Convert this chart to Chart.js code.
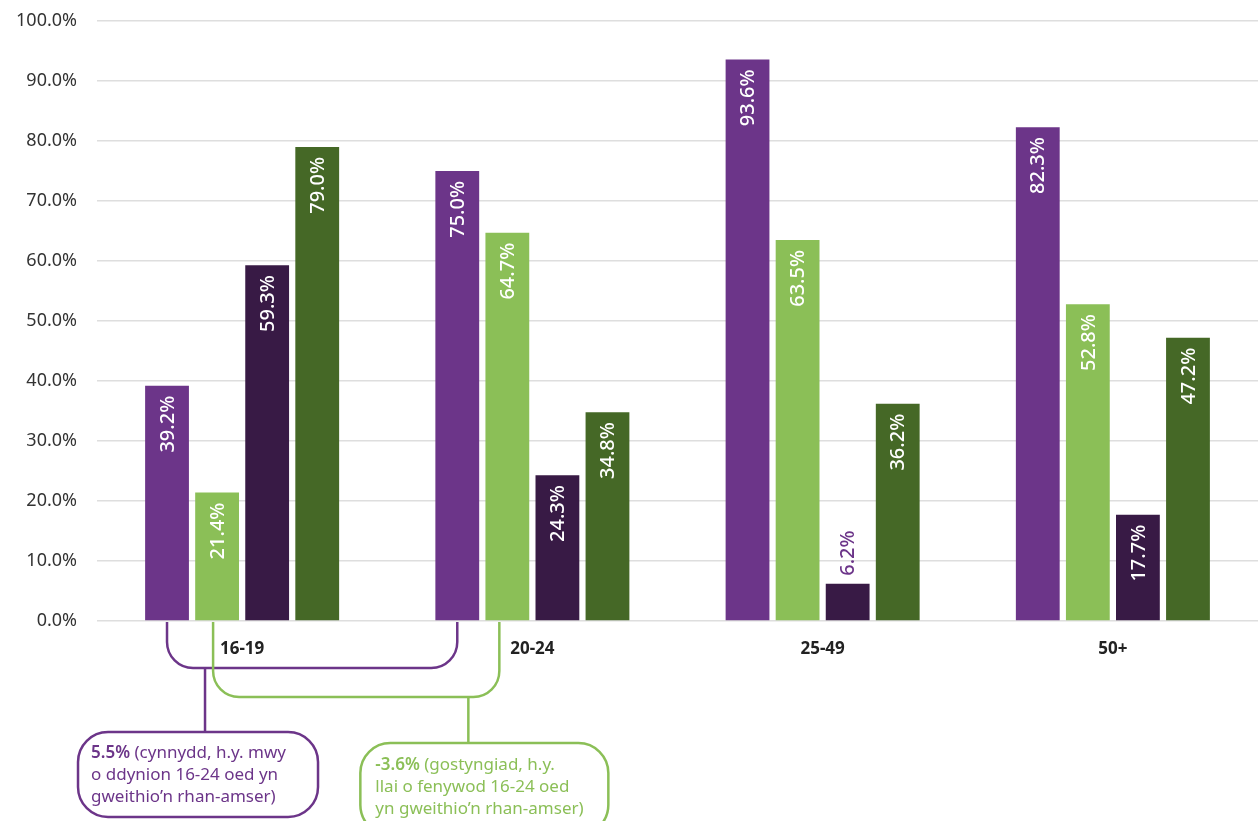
<!DOCTYPE html>
<html>
<head>
<meta charset="utf-8">
<script src="https://cdn.jsdelivr.net/npm/chart.js@4.4.1/dist/chart.umd.min.js"></script>
<style>
body { margin: 0; background: #fff; }
#wrap { width: 1258px; height: 821px; }
</style>
</head>
<body>
<div id="wrap"><canvas id="canvas" width="1258" height="821"></canvas></div>
<script>
var ageGroups = ['16-19', '20-24', '25-49', '50+'];
var seriesA = [39.2, 75.0, 93.6, 82.3];
var seriesB = [21.4, 64.7, 63.5, 52.8];
var seriesC = [59.3, 24.3, 6.2, 17.7];
var seriesD = [79.0, 34.8, 36.2, 47.2];
var yTicks = [0, 10, 20, 30, 40, 50, 60, 70, 80, 90, 100];

var purple = '#6C3589';
var green = '#8BBF57';
var darkPurple = '#381A45';
var darkGreen = '#456826';
var font = '"Noto Sans", sans-serif';

var noteMen = ['5.5%', ' (cynnydd, h.y. mwy', 'o ddynion 16-24 oed yn', 'gweithio\u2019n rhan-amser)'];
var noteWomen = ['-3.6%', ' (gostyngiad, h.y.', 'llai o fenywod 16-24 oed', 'yn gweithio\u2019n rhan-amser)'];

// labels rotated inside the bars
var barLabels = {
	id: 'barLabels',
	afterDatasetsDraw: function(chart) {
		var ctx = chart.ctx;
		ctx.save();
		ctx.font = '500 20px ' + font;
		ctx.textBaseline = 'middle';
		chart.data.datasets.forEach(function(ds, i) {
			var meta = chart.getDatasetMeta(i);
			meta.data.forEach(function(bar, j) {
				var txt = ds.data[j].toFixed(1) + '%';
				var w = ctx.measureText(txt).width;
				var h = bar.base - bar.y;
				ctx.save();
				if (h > w + 20) {
					ctx.translate(bar.x, bar.y + 10);
					ctx.rotate(-Math.PI / 2);
					ctx.textAlign = 'right';
					ctx.fillStyle = '#fff';
				} else {
					ctx.translate(bar.x, bar.y - 8);
					ctx.rotate(-Math.PI / 2);
					ctx.textAlign = 'left';
					ctx.fillStyle = purple;
				}
				ctx.fillText(txt, 0, 1);
				ctx.restore();
			});
		});
		ctx.restore();
	}
};

function bracket(ctx, x1, x2, top, yb, r) {
	ctx.beginPath();
	ctx.moveTo(x1, top);
	ctx.lineTo(x1, yb - r);
	ctx.arcTo(x1, yb, x1 + r, yb, r);
	ctx.lineTo(x2 - r, yb);
	ctx.arcTo(x2, yb, x2, yb - r, r);
	ctx.lineTo(x2, top);
	ctx.stroke();
}

function note(ctx, lines, color, x, y) {
	ctx.fillStyle = color;
	ctx.textBaseline = 'middle';
	ctx.textAlign = 'left';
	ctx.font = '600 17px ' + font;
	ctx.fillText(lines[0], x, y);
	var w = ctx.measureText(lines[0]).width;
	ctx.font = '17px ' + font;
	ctx.fillText(lines[1], x + w, y);
	ctx.fillText(lines[2], x, y + 22);
	ctx.fillText(lines[3], x, y + 44);
}

var annotations = {
	id: 'annotations',
	afterDraw: function(chart) {
		var ctx = chart.ctx;
		var bottom = chart.chartArea.bottom;
		var a = chart.getDatasetMeta(0).data;
		var b = chart.getDatasetMeta(1).data;
		ctx.save();
		ctx.lineWidth = 2.5;

		// men bracket
		ctx.strokeStyle = purple;
		var pStem = a[0].x + 38;
		bracket(ctx, a[0].x, a[1].x, bottom + 1, bottom + 47, 26);
		ctx.beginPath();
		ctx.moveTo(pStem, bottom + 47);
		ctx.lineTo(pStem, bottom + 111);
		ctx.stroke();
		ctx.beginPath();
		ctx.roundRect(pStem - 127, bottom + 111, 240, 85, 30);
		ctx.stroke();
		note(ctx, noteMen, purple, pStem - 114, bottom + 132);

		// women bracket
		ctx.strokeStyle = green;
		var gl = b[0].x - 4, gr = b[1].x - 8;
		var gStem = gr - 31;
		bracket(ctx, gl, gr, bottom + 1, bottom + 76, 26);
		ctx.beginPath();
		ctx.moveTo(gStem, bottom + 76);
		ctx.lineTo(gStem, bottom + 122);
		ctx.stroke();
		ctx.beginPath();
		ctx.roundRect(gStem - 108, bottom + 122, 248, 92, 30);
		ctx.stroke();
		note(ctx, noteWomen, green, gStem - 93, bottom + 144);
		ctx.restore();
	}
};

var ctx = document.getElementById('canvas').getContext('2d');

var myChart = new Chart(ctx, {
	type: 'bar',
	data: {
		labels: ageGroups,
		datasets: [
			{ label: 'Dynion', data: seriesA, backgroundColor: purple },
			{ label: 'Menywod', data: seriesB, backgroundColor: green },
			{ label: 'Dynion (2)', data: seriesC, backgroundColor: darkPurple },
			{ label: 'Menywod (2)', data: seriesD, backgroundColor: darkGreen }
		]
	},
	options: {
		responsive: false,
		animation: false,
		categoryPercentage: 0.69,
		barPercentage: 0.875,
		layout: { padding: { top: 21, right: 0, left: 0, bottom: 0 } },
		plugins: {
			legend: { display: false },
			tooltip: { enabled: false }
		},
		scales: {
			x: {
				grid: { display: false },
				border: { display: false },
				ticks: {
					color: '#222',
					padding: 10,
					font: { family: font, size: 17, weight: 'bold' }
				},
				afterFit: function(scale) { scale.height = 200; }
			},
			y: {
				min: 0,
				max: 100,
				afterBuildTicks: function(scale) {
					scale.ticks = yTicks.map(function(v) { return { value: v }; });
				},
				grid: { color: '#dedede', drawTicks: true, tickLength: 20, tickColor: 'rgba(0,0,0,0)', lineWidth: 1.5 },
				border: { display: false },
				ticks: {
					color: '#333',
					padding: 0,
					font: { family: font, size: 18 },
					callback: function(v) { return v.toFixed(1) + '%'; }
				},
				afterFit: function(scale) { scale.width = 97; }
			}
		}
	},
	plugins: [barLabels, annotations]
});
</script>
</body>
</html>
